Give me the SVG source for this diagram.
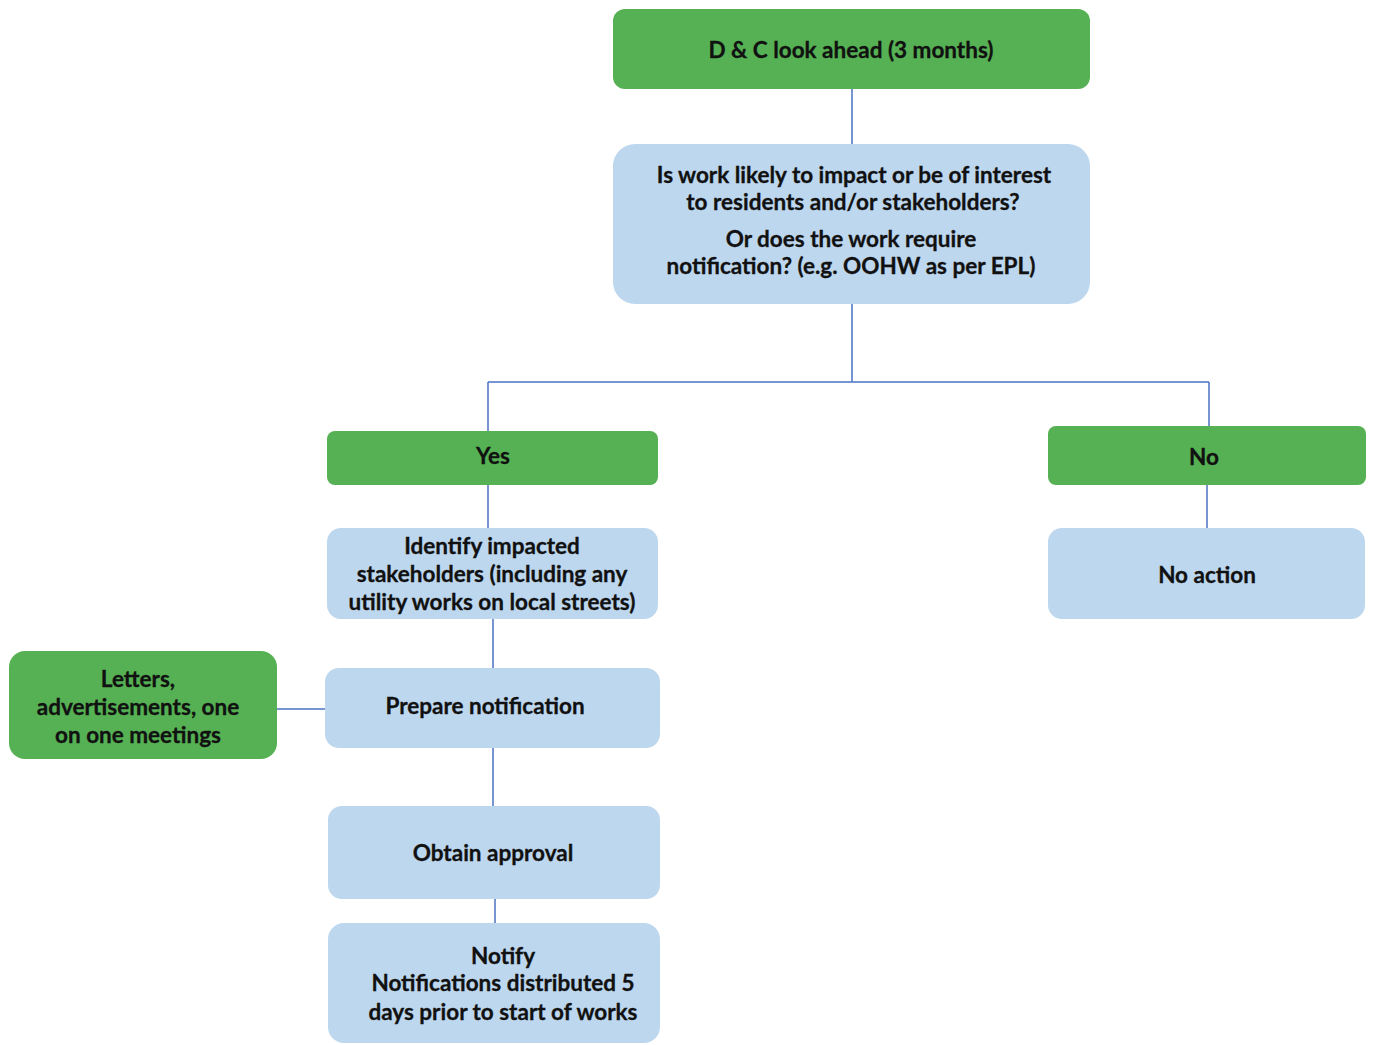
<svg xmlns="http://www.w3.org/2000/svg" width="1373" height="1045" viewBox="0 0 1373 1045">
<style>
.g{fill:#55b153}
.b{fill:#bdd7ee}
.t{font-family:Lato,"Open Sans","Liberation Sans",sans-serif;font-weight:bold;font-size:22.5px;fill:#111111;text-anchor:middle;dominant-baseline:central;stroke:#111111;stroke-width:0.3}
.c{stroke:#4a73c2;stroke-width:1.5;fill:none}
</style>
<rect width="1373" height="1045" fill="#ffffff"/>
<g id="connectors">
<path class="c" d="M852 89V144"/>
<path class="c" d="M852 304V382M488 382H1209M488 382V431M1209 382V426"/>
<path class="c" d="M488 485V528"/>
<path class="c" d="M1207 485V528"/>
<path class="c" d="M493 619V668"/>
<path class="c" d="M277 709H325"/>
<path class="c" d="M493 748V806"/>
<path class="c" d="M495 899V923"/>
</g>
<g id="n-lookahead"><rect class="g" x="613" y="9" width="477" height="80" rx="12"/><text class="t" x="851" y="49">D &amp; C look ahead (3 months)</text></g>
<g id="n-decision"><rect class="b" x="613" y="144" width="477" height="160" rx="22"/>
<text class="t" x="854" y="174">Is work likely to impact or be of interest</text>
<text class="t" x="853" y="201">to residents and/or stakeholders?</text>
<text class="t" x="851" y="238">Or does the work require</text>
<text class="t" x="851" y="265">notification? (e.g. OOHW as per EPL)</text></g>
<g id="n-yes"><rect class="g" x="327" y="431" width="331" height="54" rx="8"/><text class="t" x="493" y="455">Yes</text></g>
<g id="n-no"><rect class="g" x="1048" y="426" width="318" height="59" rx="8"/><text class="t" x="1204" y="456">No</text></g>
<g id="n-identify"><rect class="b" x="327" y="528" width="331" height="91" rx="14"/>
<text class="t" x="492" y="545">Identify impacted</text>
<text class="t" x="492" y="573">stakeholders (including any</text>
<text class="t" x="492" y="601">utility works on local streets)</text></g>
<g id="n-noaction"><rect class="b" x="1048" y="528" width="317" height="91" rx="14"/><text class="t" x="1207" y="574">No action</text></g>
<g id="n-letters"><rect class="g" x="9" y="651" width="268" height="108" rx="16"/>
<text class="t" x="138" y="678">Letters,</text>
<text class="t" x="138" y="706">advertisements, one</text>
<text class="t" x="138" y="734">on one meetings</text></g>
<g id="n-prepare"><rect class="b" x="325" y="668" width="335" height="80" rx="14"/><text class="t" x="485" y="705">Prepare notification</text></g>
<g id="n-obtain"><rect class="b" x="328" y="806" width="332" height="93" rx="14"/><text class="t" x="493" y="852">Obtain approval</text></g>
<g id="n-notify"><rect class="b" x="328" y="923" width="332" height="120" rx="16"/>
<text class="t" x="503" y="955">Notify</text>
<text class="t" x="503" y="982">Notifications distributed 5</text>
<text class="t" x="503" y="1011">days prior to start of works</text></g>
</svg>
